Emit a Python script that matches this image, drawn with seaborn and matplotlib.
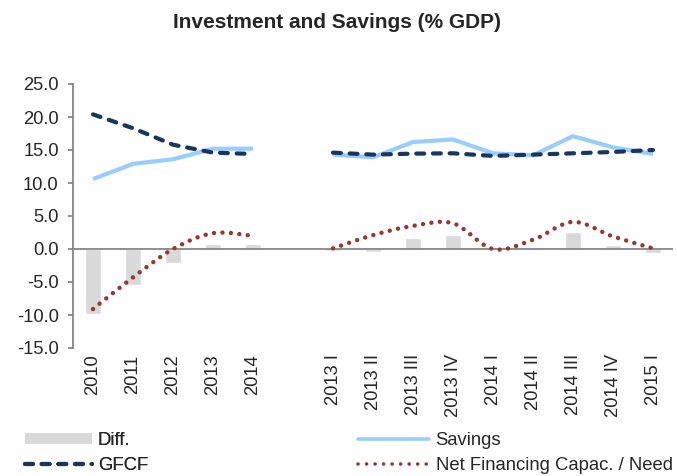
import numpy as np
import pandas as pd
import matplotlib
matplotlib.use("Agg")
import matplotlib.pyplot as plt
import seaborn as sns
from matplotlib.path import Path
from matplotlib.patches import PathPatch, Patch
from matplotlib.lines import Line2D

nan = np.nan
categories = ["2010", "2011", "2012", "2013", "2014", "",
              "2013 I", "2013 II", "2013 III", "2013 IV",
              "2014 I", "2014 II", "2014 III", "2014 IV", "2015 I"]
savings = [10.6, 12.9, 13.6, 15.2, 15.2, nan,
           14.3, 13.9, 16.2, 16.6, 14.5, 14.2, 17.1, 15.4, 14.4]
gfcf = [20.4, 18.3, 15.8, 14.6, 14.4, nan,
        14.6, 14.3, 14.45, 14.5, 14.1, 14.3, 14.5, 14.7, 15.0]
diff = [-9.9, -5.5, -2.1, 0.8, 0.8, nan,
        -0.3, -0.4, 1.7, 2.1, 0.3, -0.2, 2.5, 0.6, -0.6]
net = [-9.1, -4.3, 0.0, 2.4, 2.0, nan,
       0.1, 2.1, 3.5, 3.9, 0.0, 1.4, 4.1, 1.9, 0.1]
yticks = [-15, -10, -5, 0, 5, 10, 15, 20, 25]

C_BAR = "#D9D9D9"
C_SAV = "#99CCFF"
C_GFCF = "#17375E"
C_NET = "#953735"
C_AX = "#868686"

sns.set_style("white")
plt.rcParams["font.family"] = ["Liberation Sans", "DejaVu Sans"]
plt.rcParams["axes.unicode_minus"] = False

fig = plt.figure(figsize=(6.77, 4.76), dpi=100)
ax = fig.add_axes([73 / 677, 1 - 348 / 476, 600 / 677, 264 / 476])

df = pd.DataFrame({"cat": categories, "diff": diff})
sns.barplot(data=df, x="cat", y="diff", order=categories, color=C_BAR,
            saturation=1, width=0.38, errorbar=None, ax=ax)

pos = np.arange(len(categories))
segments = [(0, 5), (6, 15)]
for a, b in segments:
    sns.lineplot(x=pos[a:b], y=savings[a:b], ax=ax, color=C_SAV, lw=3.0,
                 legend=False, solid_capstyle="butt")
for a, b in segments:
    sns.lineplot(x=pos[a:b], y=gfcf[a:b], ax=ax, color=C_GFCF, lw=3.0,
                 linestyle=(0, (1.9, 2.1)), dash_capstyle="round", legend=False)


def smooth_path(xs, ys):
    pts = np.column_stack([xs, ys]).astype(float)
    n = len(pts)
    verts = [pts[0]]
    codes = [Path.MOVETO]
    for i in range(n - 1):
        p0 = pts[i - 1] if i > 0 else pts[i]
        p1 = pts[i]
        p2 = pts[i + 1]
        p3 = pts[i + 2] if i + 2 < n else pts[i + 1]
        c1 = p1 + (p2 - p0) / 6.0
        c2 = p2 - (p3 - p1) / 6.0
        verts += [c1, c2, p2]
        codes += [Path.CURVE4] * 3
    return Path(verts, codes)


for a, b in segments:
    pp = PathPatch(smooth_path(pos[a:b], net[a:b]), fill=False, edgecolor=C_NET,
                   lw=3.2, linestyle=(0, (0.01, 1.9)), capstyle="round", zorder=3)
    ax.add_patch(pp)

ax.axhline(0, color=C_AX, lw=1.3, zorder=2.5)
ax.set_xlim(-0.5, 14.5)
ax.set_ylim(-15, 25)
ax.set_yticks(yticks)
ax.set_yticklabels([f"{v:.1f}" for v in yticks])
ax.set_xticks(pos)
ax.set_xticklabels(categories, rotation=90, va="top", ha="center")
ax.set_xlabel("")
ax.set_ylabel("")
for s in ["top", "right", "bottom"]:
    ax.spines[s].set_visible(False)
ax.spines["left"].set_color(C_AX)
ax.spines["left"].set_linewidth(1.3)
ax.tick_params(axis="y", direction="out", length=3.8, width=1.3, color=C_AX,
               pad=6.5, labelsize=13.2, left=True)
ax.tick_params(axis="x", length=0, pad=4.5, labelsize=13.2, bottom=False)
ax.grid(False)

fig.text(0.4985, 1 - 23 / 476, "Investment and Savings (% GDP)", ha="center",
         va="center", fontsize=15, fontweight="bold")

fs_leg = 13.3
h1 = [Patch(facecolor=C_BAR, edgecolor="none"),
      Line2D([], [], color=C_GFCF, lw=3.0, linestyle=(0, (1.9, 2.1)),
             dash_capstyle="round")]
l1 = ["Diff.", "GFCF"]
h2 = [Line2D([], [], color=C_SAV, lw=2.6),
      Line2D([], [], color=C_NET, lw=2.6, linestyle=(0, (0.01, 2.35)),
             dash_capstyle="round")]
l2 = ["Savings", "Net Financing Capac. / Need"]

leg1 = fig.legend(h1, l1, loc="upper left",
                  bbox_to_anchor=(25 / 677, 1 - 432 / 476), frameon=False,
                  fontsize=fs_leg, handlelength=3.6, handleheight=0.5,
                  handletextpad=0.35, labelspacing=0.42, borderpad=0,
                  borderaxespad=0)
leg2 = fig.legend(h2, l2, loc="upper left",
                  bbox_to_anchor=(358 / 677, 1 - 432 / 476), frameon=False,
                  fontsize=fs_leg, handlelength=3.85, handleheight=0.5,
                  handletextpad=0.35, labelspacing=0.42, borderpad=0,
                  borderaxespad=0)
fig.add_artist(leg1)

fig.savefig("out.png", dpi=100)
